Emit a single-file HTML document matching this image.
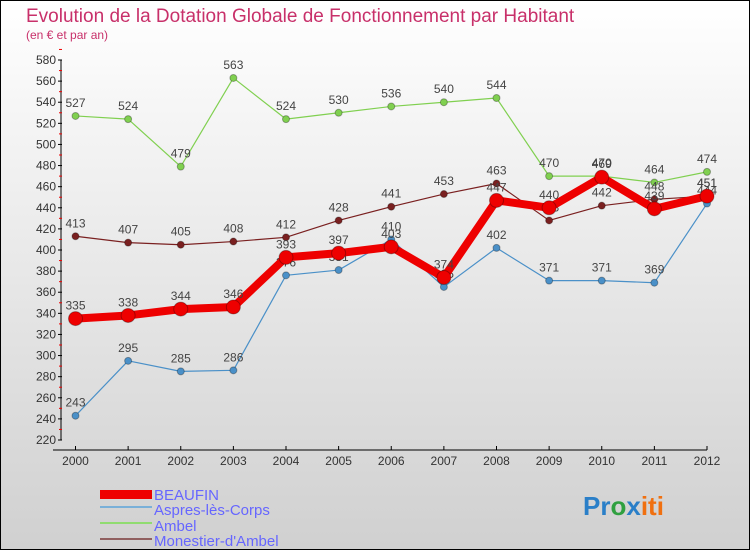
<!DOCTYPE html>
<html><head><meta charset="utf-8"><style>
body{margin:0;}
svg{display:block;font-family:"Liberation Sans",sans-serif;}
</style></head><body>
<svg id="chart" width="750" height="550" xmlns="http://www.w3.org/2000/svg">
<defs><linearGradient id="bg" x1="0" y1="0" x2="0" y2="1"><stop offset="0" stop-color="#ffffff"/><stop offset="1" stop-color="#d0d0d0"/></linearGradient></defs>
<rect x="0.5" y="0.5" width="749" height="549" fill="url(#bg)" stroke="#000"/>
<text x="26" y="22" font-size="19" fill="#c8306a">Evolution de la Dotation Globale de Fonctionnement par Habitant</text>
<text x="26" y="39" font-size="12" fill="#c8306a">(en € et par an)</text>
<g id="axes"></g>
<g id="series"></g>
<g>
<rect x="100" y="490" width="52" height="9" fill="#e00"/>
<text x="154" y="500" font-size="15" fill="#6666ff">BEAUFIN</text>
<rect x="100" y="506" width="52" height="2" fill="#7ab0d8"/>
<text x="154" y="515" font-size="15" fill="#6666ff">Aspres-lès-Corps</text>
<rect x="100" y="522" width="52" height="2" fill="#90dc70"/>
<text x="154" y="531" font-size="15" fill="#6666ff">Ambel</text>
<rect x="100" y="538" width="52" height="2" fill="#906060"/>
<text x="154" y="546" font-size="15" fill="#6666ff">Monestier-d'Ambel</text>
</g>
<text x="583" y="515" font-size="26" font-weight="bold"><tspan fill="#2a7fc8">Pr</tspan><tspan fill="#30a040">o</tspan><tspan fill="#2a7fc8">x</tspan><tspan fill="#f07010">iti</tspan></text>
</svg>
<script>
const years=[2000,2001,2002,2003,2004,2005,2006,2007,2008,2009,2010,2011,2012];
const yTicks=[220,240,260,280,300,320,340,360,380,400,420,440,460,480,500,520,540,560,580];
const beaufin=[335,338,344,346,393,397,403,374,447,440,469,439,451];
const aspres=[243,295,285,286,376,381,410,365,402,371,371,369,444];
const ambel=[527,524,479,563,524,530,536,540,544,470,470,464,474];
const monestier=[413,407,405,408,412,428,441,453,463,428,442,448,451];
const NS="http://www.w3.org/2000/svg";
const x=i=>75.5+i*(707-75.5)/12;
const y=v=>440-(v-220)*380/360;
function mk(t,a,p){const e=document.createElementNS(NS,t);for(const k in a)e.setAttribute(k,a[k]);p.appendChild(e);return e;}
const ax=document.getElementById('axes');
mk('line',{x1:61,y1:y(580),x2:61,y2:y(220),stroke:'#000'},ax);
mk('line',{x1:53,y1:450,x2:707,y2:450,stroke:'#000'},ax);
yTicks.forEach(v=>{
  mk('line',{x1:58,y1:y(v),x2:62,y2:y(v),stroke:'#000'},ax);
  mk('line',{x1:59,y1:y(v+10),x2:62,y2:y(v+10),stroke:'#e00'},ax);
  const t=mk('text',{x:56,y:y(v)+4,'font-size':12,'text-anchor':'end',fill:'#333'},ax);
  
  
  t.textContent=v;
});
years.forEach((yr,i)=>{
  mk('line',{x1:x(i),y1:446,x2:x(i),y2:450,stroke:'#000'},ax);
  const t=mk('text',{x:x(i),y:465,'font-size':12,'text-anchor':'middle',fill:'#333'},ax);
  
  
  t.textContent=yr;
});
const sg=document.getElementById('series');
function series(data,color,w,r,name){
  const g=mk('g',{},sg);
  
  
  const pl=mk('polyline',{points:data.map((v,i)=>x(i)+','+y(v)).join(' '),fill:'none',stroke:color,'stroke-width':w,'stroke-linejoin':'round'},g);
  
  
  data.forEach((v,i)=>{
    const c=mk('circle',{cx:x(i),cy:y(v),r:r,fill:color,stroke:'rgba(0,0,0,0.3)'},g);
    
    
    const t=mk('text',{x:x(i),y:y(v)-9,'font-size':12,'text-anchor':'middle',fill:'#444'},g);
    
    
    t.textContent=v;
  });
}
series(ambel,'#80d050',1.2,3.5,'ambel');
series(aspres,'#4a90c8',1.2,3.5,'aspres');
series(monestier,'#7a2020',1.2,3.5,'monestier');
series(beaufin,'#ee0000',8,7,'beaufin');
</script>
</body></html>
